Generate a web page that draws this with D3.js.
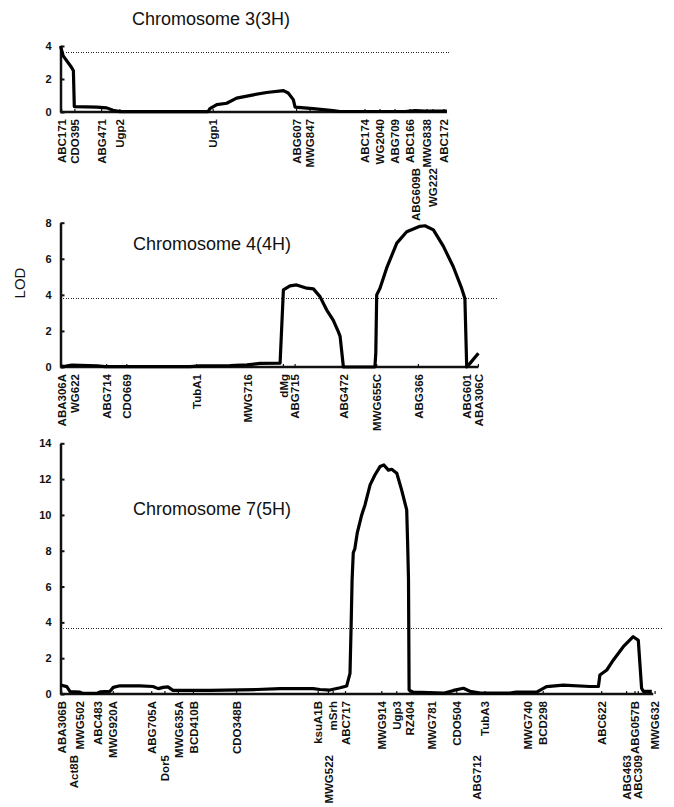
<!DOCTYPE html>
<html>
<head>
<meta charset="utf-8">
<script src="https://cdn.jsdelivr.net/npm/d3@7/dist/d3.min.js"></script>
<style>
  body { margin: 0; background: #fff; }
  svg { display: block; }
  .mk { font-family: "Liberation Sans", Arial, sans-serif; font-weight: bold; font-size: 11.5px; fill: #111; }
  .tick text { font-family: "Liberation Sans", Arial, sans-serif; font-weight: bold; font-size: 11px; fill: #111; }
  .ttl { font-family: "Liberation Sans", Arial, sans-serif; font-size: 18px; fill: #111; }
</style>
</head>
<body>
<svg id="chart" width="674" height="807"></svg>
<script>
// Chromosome 3(3H) -- marker names, positions (cM), label row
const chr3Names = ["ABC171","CDO395","ABG471","Ugp2","Ugp1","ABG607","MWG847","ABC174","WG2040","ABG709","ABC166","ABG609B","MWG838","WG222","ABC172"];
const chr3Marks = [0.4, 4.8, 13.7, 19.8, 50.9, 78.7, 83.2, 101.5, 106.5, 111.5, 116.5, 118.5, 122.2, 124.2, 127.8];
const chr3Row   = [0,0,0,0,0,0,0,0,0,0,0,1,0,1,0];
// LOD profile
const chr3Pos = [0, 0.9, 3.7, 4.3, 4.6, 12.1, 15.4, 17.5, 19.8, 49.2, 49.8, 52.1, 55.4, 58.7, 64.3, 68.7, 74.3, 75.9, 77.6, 78.2, 84.2, 90.8, 93.2, 114.8, 118.2, 121.5, 126.5, 128.8];
const chr3Lod = [4.0, 3.4, 2.7, 2.5, 0.33, 0.3, 0.25, 0.1, 0.02, 0.02, 0.2, 0.45, 0.53, 0.84, 1.04, 1.18, 1.3, 1.15, 0.75, 0.3, 0.2, 0.08, 0.03, 0.03, 0.08, 0.05, 0.06, 0.05];

// Chromosome 4(4H)
const chr4Names = ["ABA306A","WG622","ABG714","CDO669","TubA1","MWG716","dMg","ABG715","ABG472","MWG655C","ABG366","ABG601","ABA306C"];
const chr4Marks = [0.4, 4.9, 15.4, 22.1, 45.4, 62.3, 74.3, 78.2, 94.3, 105.4, 119.3, 135.4, 139.3];
const chr4Row   = [0,0,0,0,0,0,0,0,0,0,0,0,0];
const chr4Pos = [0.2, 1.8, 3.8, 12.2, 14.8, 43.2, 46.5, 56.5, 62.2, 66.5, 73.2, 74.3, 76.5, 78.7, 82.1, 84.3, 86.5, 88.7, 90.9, 92.6, 93.2, 94.3, 104.8, 105.1, 105.4, 106.5, 108.7, 112.1, 115.4, 119.8, 121.5, 124.3, 127.6, 130.9, 133.7, 134.8, 135.4, 136.5, 139.3];
const chr4Lod = [0.02, 0.05, 0.1, 0.07, 0.02, 0.02, 0.06, 0.08, 0.12, 0.2, 0.22, 4.28, 4.5, 4.55, 4.37, 4.33, 3.9, 3.17, 2.6, 1.96, 1.7, 0.0, 0.0, 0.78, 4.0, 4.37, 5.48, 6.87, 7.5, 7.8, 7.83, 7.6, 6.7, 5.57, 4.37, 3.8, 0.0, 0.2, 0.76];

// Chromosome 7(5H)
const chr7Names = ["ABA306B","Act8B","MWG502","ABC483","MWG920A","ABG705A","Dor5","MWG635A","BCD410B","CDO348B","ksuA1B","MWG522","mSrh","ABC717","MWG914","Ugp3","RZ404","MWG781","CDO504","ABG712","TubA3","MWG740","BCD298","ABC622","ABG463","ABG057B","ABC309","MWG632"];
const chr7Marks = [0.4, 4.3, 6.5, 12.6, 17.6, 30.4, 34.8, 39.3, 44.3, 58.7, 85.9, 89.3, 90.9, 95.0, 107.1, 112.1, 116.5, 123.7, 132.1, 138.7, 141.5, 155.9, 160.9, 180.4, 188.7, 191.5, 192.6, 198.2];
const chr7Row   = [0,1,0,0,0,0,1,0,0,0,0,1,0,0,0,0,0,0,0,1,0,0,0,0,1,0,1,0];
const chr7Pos = [0, 2.1, 3.2, 6.5, 7.5, 12.2, 13.2, 16.5, 17.6, 19.8, 26.5, 30.8, 32.6, 34.2, 35.8, 37.5, 49.8, 65.4, 73.2, 84.2, 86.5, 89.8, 93.2, 95.4, 96.5, 96.9, 97.2, 97.6, 98.1, 98.9, 100.4, 101.5, 103.2, 104.8, 106.5, 107.8, 109.3, 110.4, 112.1, 113.7, 115.4, 115.7, 116.0, 116.2, 117.6, 128.0, 131.0, 134.3, 136.5, 140.0, 149.8, 151.9, 158.7, 162.0, 167.6, 176.5, 179.3, 179.8, 182.1, 184.3, 187.6, 190.9, 192.6, 193.7, 194.3, 197.1];
const chr7Lod = [0.5, 0.41, 0.13, 0.1, 0.03, 0.03, 0.12, 0.15, 0.37, 0.46, 0.45, 0.42, 0.3, 0.37, 0.4, 0.2, 0.2, 0.25, 0.3, 0.3, 0.25, 0.22, 0.35, 0.45, 1.15, 4.0, 6.4, 7.9, 8.1, 8.98, 10.0, 10.56, 11.68, 12.23, 12.7, 12.79, 12.5, 12.55, 12.33, 11.4, 10.28, 8.5, 6.4, 0.22, 0.1, 0.05, 0.2, 0.32, 0.15, 0.05, 0.05, 0.1, 0.1, 0.41, 0.5, 0.42, 0.42, 1.06, 1.34, 1.9, 2.64, 3.2, 3.0, 0.32, 0.15, 0.15];

const svg = d3.select("#chart");
const pxPerCM = 3;
const x0 = 60.5;

function drawPanel(p) {
  const g = svg.append("g");
  const x = d3.scaleLinear().domain([0, p.len]).range([x0, x0 + pxPerCM * p.len]);
  const y = d3.scaleLinear().domain([0, p.yMax]).range([p.y0, p.yTop]);

  // threshold (dotted)
  const ty = Math.round(y(p.thr)) + 0.5;
  g.append("line")
    .attr("x1", x0).attr("x2", p.dotEnd)
    .attr("y1", ty).attr("y2", ty)
    .attr("stroke", "#222").attr("stroke-width", 1)
    .attr("stroke-dasharray", "1,1.5")
    .attr("shape-rendering", "crispEdges");

  // y axis, ticks point inward
  const yAxis = d3.axisLeft(y).tickValues(d3.range(0, p.yMax + 1, p.step))
    .tickFormat(d3.format("d"))
    .tickSizeInner(-4).tickSizeOuter(0).tickPadding(9);
  const ya = g.append("g").attr("transform", `translate(${x0},0)`).call(yAxis);
  ya.select(".domain").attr("stroke", "#111").attr("stroke-width", 2.5);
  ya.selectAll(".tick line").attr("stroke", "#111").attr("stroke-width", 2);

  // x axis baseline + marker ticks
  g.append("line")
    .attr("x1", x0).attr("x2", x(p.len))
    .attr("y1", p.y0).attr("y2", p.y0)
    .attr("stroke", "#111").attr("stroke-width", 2.5);
  g.selectAll("line.mt").data(p.marks).join("line")
    .attr("class", "mt")
    .attr("x1", d => x(d)).attr("x2", d => x(d))
    .attr("y1", p.y0).attr("y2", p.y0 - 3)
    .attr("stroke", "#111").attr("stroke-width", 1.2);

  // LOD curve
  const pts = p.pos.map((d, i) => [d, p.lod[i]]);
  g.append("path")
    .datum(pts)
    .attr("fill", "none")
    .attr("stroke", "#000")
    .attr("stroke-width", 3.2)
    .attr("stroke-linejoin", "round")
    .attr("d", d3.line().x(d => x(d[0])).y(d => y(d[1])));

  // marker labels (vertical)
  g.selectAll("text.mk").data(p.names).join("text")
    .attr("class", "mk")
    .attr("transform", (d, i) => {
      const yy = p.row[i] ? p.lab1 : p.y0 + 7;
      return `translate(${x(p.marks[i])},${yy}) rotate(-90)`;
    })
    .attr("text-anchor", "end")
    .attr("dy", "0.36em")
    .text(d => d);

  g.append("text").attr("class", "ttl")
    .attr("x", p.tx).attr("y", p.ty)
    .text(p.title);
}

drawPanel({ title: "Chromosome 3(3H)", tx: 132, ty: 25,
  names: chr3Names, marks: chr3Marks, row: chr3Row, pos: chr3Pos, lod: chr3Lod,
  len: 128.8, y0: 112, yTop: 46, yMax: 4, step: 2, thr: 3.65, dotEnd: 450, lab1: 168 });

drawPanel({ title: "Chromosome 4(4H)", tx: 133, ty: 250,
  names: chr4Names, marks: chr4Marks, row: chr4Row, pos: chr4Pos, lod: chr4Lod,
  len: 139.3, y0: 367, yTop: 222.7, yMax: 8, step: 2, thr: 3.8, dotEnd: 498, lab1: 420 });

drawPanel({ title: "Chromosome 7(5H)", tx: 133, ty: 515,
  names: chr7Names, marks: chr7Marks, row: chr7Row, pos: chr7Pos, lod: chr7Lod,
  len: 197.6, y0: 694, yTop: 443.3, yMax: 14, step: 2, thr: 3.7, dotEnd: 663, lab1: 755 });

// shared y label
svg.append("text")
  .attr("transform", "translate(25,283) rotate(-90)")
  .attr("text-anchor", "middle")
  .style("font-family", "'Liberation Sans', Arial, sans-serif")
  .style("font-size", "15px")
  .attr("fill", "#111")
  .text("LOD");
</script>
</body>
</html>
